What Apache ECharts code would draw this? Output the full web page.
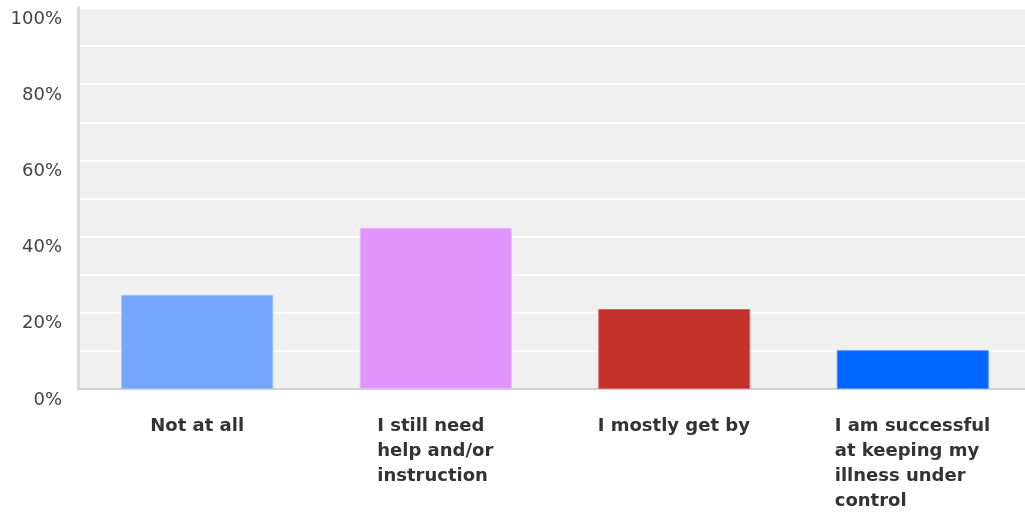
<!DOCTYPE html>
<html>
<head>
<meta charset="utf-8">
<script src="https://cdn.jsdelivr.net/npm/echarts@6/dist/echarts.min.js"></script>
<style>
  html, body { margin: 0; padding: 0; background: #ffffff; overflow: hidden; }
  /* the plot runs slightly past the right edge of the window */
  #chart { width: 1032px; height: 512px; }
</style>
</head>
<body>
<div id="chart"></div>
<script>
// Answers to: how well do you manage your illness on your own?
const categories = [
  'Not at all',
  'I still need\nhelp and/or\ninstruction',
  'I mostly get by',
  'I am successful\nat keeping my\nillness under\ncontrol'
];
const shares = [24.7, 42.3, 21.0, 10.2];
const barColors = ['#76a5fd', '#e194fc', '#c3312a', '#0066ff'];
const barBorders = ['#9cbdfd', '#eab4fc', '#d4655f', '#4d94ff'];
const yTickLabels = ['0%', '20%', '40%', '60%', '80%', '100%'];

const labelFont = 'bold 18px "DejaVu Sans"';

// Width of the longest line of each label, so lines can be left-aligned
// inside a block that is centred under its bar.
const ctx = document.createElement('canvas').getContext('2d');
ctx.font = labelFont;
const rich = {};
categories.forEach((c, i) => {
  const w = Math.max(...c.split('\n').map(l => ctx.measureText(l).width));
  rich['c' + i] = {
    width: Math.ceil(w),
    align: 'left',
    fontFamily: 'DejaVu Sans',
    fontWeight: 'bold',
    fontSize: 18,
    lineHeight: 25,
    color: '#333333'
  };
});

const chart = echarts.init(document.getElementById('chart'), null, { renderer: 'canvas' });
chart.setOption({
  animation: false,
  grid: {
    left: 78, top: 8, bottom: 123, right: 0,
    show: true, backgroundColor: '#f0f0f0', borderWidth: 0
  },
  xAxis: {
    type: 'category',
    data: categories,
    axisTick: { show: false },
    axisLine: { show: true, lineStyle: { color: '#d2d2d2', width: 2 } },
    axisLabel: {
      interval: 0,
      margin: 25,
      verticalAlign: 'top',
      formatter: (v, idx) => v.split('\n').map(l => '{c' + idx + '|' + l + '}').join('\n'),
      rich: rich
    }
  },
  yAxis: {
    type: 'value',
    min: 0, max: 100, interval: 10,
    axisLine: { show: true, lineStyle: { color: '#dadada', width: 3 } },
    axisTick: { show: false },
    splitLine: { show: true, lineStyle: { color: '#ffffff', width: 2 } },
    axisLabel: {
      margin: 16,
      verticalAlign: 'top',
      padding: [2, 0, 0, 0],
      fontFamily: 'DejaVu Sans',
      fontSize: 18,
      color: '#444444',
      formatter: v => (v % 20 === 0 ? yTickLabels[v / 20] : '')
    }
  },
  series: [{
    type: 'bar',
    barWidth: 152,
    data: shares.map((v, i) => ({
      value: v,
      itemStyle: { color: barColors[i], borderColor: barBorders[i], borderWidth: 1 }
    }))
  }]
});
</script>
</body>
</html>
